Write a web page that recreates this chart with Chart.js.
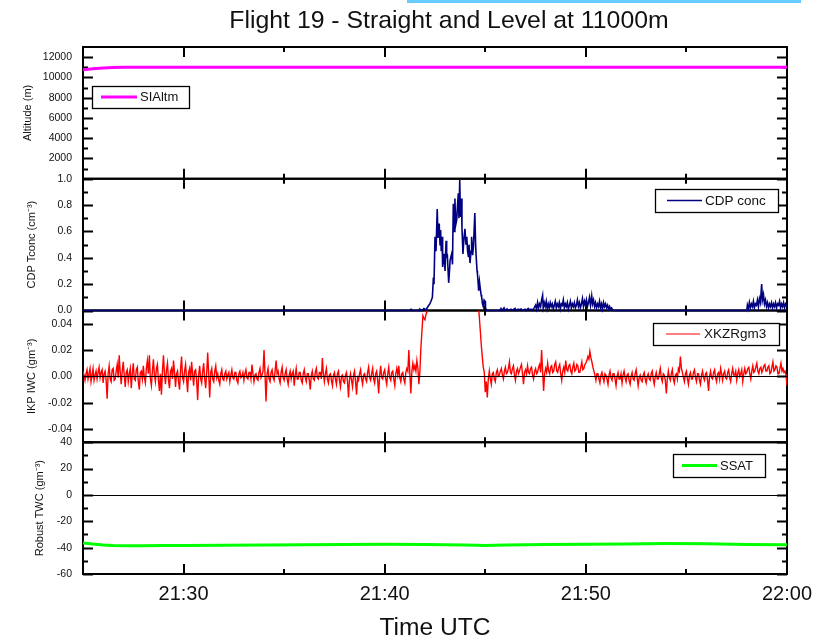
<!DOCTYPE html>
<html>
<head>
<meta charset="utf-8">
<script src="https://cdn.jsdelivr.net/npm/chart.js@4/dist/chart.umd.min.js"></script>
<style>
html,body{margin:0;padding:0;background:#fff;}
#wrap{position:relative;width:825px;height:643px;}
</style>
</head>
<body>
<div id="wrap"><canvas id="c" width="825" height="643"></canvas></div>
<script>
// ---------------- DATA ----------------
const chartTitle = 'Flight 19 - Straight and Level at 11000m';
const xAxisTitle = 'Time UTC';
// time axis in minutes after 21:00
const xTickValues = [30, 40, 50, 60];
const xTickLabels = ['21:30', '21:40', '21:50', '22:00'];
const xMinorValues = [35, 45, 55];

const seriesNames = ['SIAltm', 'CDP conc', 'XKZRgm3', 'SSAT'];
const yTitles = ['Altitude (m)', 'CDP Tconc (cm\u207B\u00B3)', 'IKP IWC (gm\u207B\u00B3)', 'Robust TWC (gm\u207B\u00B3)'];

const altTicks = [2000, 4000, 6000, 8000, 10000, 12000];
const altMinor = [1000, 3000, 5000, 7000, 9000, 11000];
const cdpTicks = [0, 0.2, 0.4, 0.6, 0.8, 1.0];
const cdpMinor = [0.1, 0.3, 0.5, 0.7, 0.9];
const iwcTicks = [-0.04, -0.02, 0, 0.02, 0.04];
const iwcMinor = [];
const twcTicks = [-60, -40, -20, 0, 20, 40];
const twcMinor = [-50, -30, -10, 10, 30];

// Altitude (SIAltm)
const altTime = [25, 25.5, 26, 26.5, 27, 30, 35, 40, 45, 50, 55, 60];
const altValues = [10750, 10850, 10930, 10980, 11000, 11000, 11010, 11000, 11000, 11010, 11000, 11000];

// CDP concentration
const cdpTime = [25, 41.25, 41.31, 41.36, 41.72, 41.75, 41.85, 41.95, 42.05, 42.15, 42.24, 42.30, 42.37, 42.42, 42.45, 42.50, 42.55, 42.61, 42.65, 42.71, 42.75, 42.78, 42.81, 42.85, 42.88, 42.95, 43.00, 43.05, 43.08, 43.11, 43.18, 43.22, 43.25, 43.33, 43.37, 43.41, 43.45, 43.49, 43.53, 43.58, 43.62, 43.66, 43.69, 43.73, 43.76, 43.78, 43.82, 43.84, 43.89, 43.94, 43.99, 44.04, 44.08, 44.12, 44.16, 44.19, 44.24, 44.29, 44.32, 44.37, 44.41, 44.48, 44.52, 44.54, 44.59, 44.61, 44.65, 44.67, 44.71, 44.74, 44.79, 44.82, 44.86, 44.90, 44.94, 44.99, 45.01, 45.07,
  45.73, 45.78, 45.83, 45.93, 45.98, 46.08, 46.13, 46.28, 46.33, 46.48, 46.53, 46.63, 46.68, 46.78, 46.83, 46.98, 47.03, 47.13, 47.18, 47.28, 47.33, 47.43,
  47.50, 47.55, 47.60, 47.65, 47.70, 47.75, 47.80, 47.85, 47.88, 47.93, 47.98, 48.03, 48.08, 48.13, 48.18, 48.23, 48.28, 48.33, 48.38, 48.43, 48.48, 48.53, 48.58, 48.63, 48.68, 48.73, 48.78, 48.83, 48.88, 48.93, 48.98, 49.03, 49.08, 49.13, 49.18, 49.23, 49.28, 49.33, 49.38, 49.43, 49.48, 49.53, 49.58, 49.63, 49.68, 49.73, 49.78, 49.83, 49.88, 49.93, 49.98, 50.03, 50.08, 50.13, 50.18, 50.23, 50.29, 50.33, 50.38, 50.43, 50.48, 50.53, 50.58, 50.63, 50.68, 50.73, 50.78, 50.83, 50.88, 50.93, 50.98, 51.03, 51.08, 51.13, 51.18, 51.23, 51.28, 51.35,
  58.00, 58.03, 58.08, 58.13, 58.18, 58.23, 58.28, 58.33, 58.38, 58.43, 58.48, 58.53, 58.58, 58.63, 58.68, 58.74, 58.78, 58.83, 58.88, 58.93, 58.98, 59.03, 59.08, 59.13, 59.18, 59.23, 59.28, 59.33, 59.38, 59.43, 59.48, 59.53, 59.58, 59.63, 59.68, 59.73, 59.78, 59.83, 59.88, 59.93, 60];
const cdpValues = [0, 0, 0.01, 0, 0, 0.01, 0.0, 0.015, 0.005, 0.03, 0.05, 0.07, 0.1, 0.25, 0.2, 0.56, 0.45, 0.77, 0.55, 0.66, 0.5, 0.61, 0.45, 0.56, 0.33, 0.43, 0.3, 0.53, 0.4, 0.43, 0.21, 0.3, 0.38, 0.43, 0.35, 0.81, 0.6, 0.85, 0.65, 0.69, 0.8, 0.89, 0.7, 0.99, 0.75, 0.71, 0.85, 0.63, 0.43, 0.55, 0.62, 0.5, 0.56, 0.45, 0.41, 0.5, 0.36, 0.45, 0.56, 0.42, 0.48, 0.74, 0.5, 0.43, 0.3, 0.28, 0.2, 0.15, 0.22, 0.18, 0.12, 0.1, 0.05, 0.03, 0.08, 0.07, 0.02, 0,
  0, 0.015, 0, 0.02, 0, 0.012, 0, 0.01, 0, 0.015, 0, 0.01, 0.005, 0.012, 0, 0.01, 0, 0.015, 0.005, 0.01, 0, 0.02,
  0.04, 0.01, 0.06, 0.02, 0.05, 0.03, 0.08, 0.115, 0.02, 0.06, 0.03, 0.07, 0.01, 0.05, 0.02, 0.06, 0.03, 0.05, 0.01, 0.04, 0.07, 0.02, 0.05, 0.03, 0.06, 0.01, 0.05, 0.04, 0.08, 0.02, 0.05, 0.03, 0.06, 0.01, 0.04, 0.07, 0.02, 0.05, 0.03, 0.06, 0.02, 0.04, 0.08, 0.03, 0.06, 0.02, 0.05, 0.09, 0.03, 0.07, 0.04, 0.08, 0.03, 0.06, 0.1, 0.04, 0.11, 0.05, 0.08, 0.03, 0.06, 0.02, 0.05, 0.03, 0.07, 0.02, 0.05, 0.01, 0.06, 0.03, 0.05, 0.02, 0.04, 0.01, 0.03, 0.01, 0.02, 0,
  0, 0.04, 0.01, 0.06, 0.02, 0.05, 0.03, 0.07, 0.02, 0.05, 0.04, 0.08, 0.03, 0.09, 0.06, 0.2, 0.08, 0.12, 0.05, 0.08, 0.03, 0.06, 0.02, 0.05, 0.03, 0.06, 0.02, 0.05, 0.03, 0.06, 0.02, 0.05, 0.04, 0.07, 0.02, 0.05, 0.03, 0.06, 0.02, 0.05, 0.03];

// IKP IWC, sampled every 0.05 min (3 s) from 21:25 to 22:00, one row per minute
const iwcStart = 25, iwcStep = 0.05;
const iwcValues = [
  0.004, 0.001, -0.003, 0.002, 0.005, -0.002, 0.002, 0.006, -0.004, 0.001, 0.006, -0.003, 0.001, 0.004, -0.002, 0.003, 0.007, -0.001, 0.003, 0.005,
  -0.005, 0.002, 0.004, -0.003, -0.017, 0.002, 0.008, -0.002, -0.004, 0.005, 0.006, -0.003, -0.002, 0.004, 0.009, -0.001, 0.016, 0.003, -0.006, 0.004,
  0.011, 0.001, -0.008, 0.003, 0.005, -0.004, 0.002, 0.006, -0.009, 0.002, 0.010, -0.002, -0.003, 0.005, 0.007, -0.004, -0.010, 0.003, 0.004, -0.002,
  0.008, -0.001, -0.005, 0.006, 0.012, 0.002, 0.016, -0.002, -0.007, 0.004, 0.013, 0.001, -0.004, 0.006, 0.009, -0.003, -0.011, 0.002, -0.014, 0.004,
  0.016, 0.002, -0.006, 0.005, 0.010, -0.003, -0.009, 0.004, 0.006, -0.002, 0.012, 0.003, -0.008, 0.002, 0.004, -0.004, -0.010, 0.005, 0.015, -0.001,
  -0.004, 0.004, 0.009, -0.002, -0.012, 0.003, 0.006, -0.003, 0.011, 0.002, -0.007, 0.004, 0.005, -0.003, -0.018, 0.001, 0.008, -0.002, -0.005, 0.004,
  0.010, -0.002, -0.009, 0.003, 0.018, 0.001, -0.016, 0.003, 0.006, -0.002, -0.004, 0.004, 0.008, -0.001, 0.002, -0.003, -0.006, 0.002, 0.005, -0.002,
  -0.003, 0.002, 0.004, -0.002, 0.001, 0.003, -0.004, 0.001, 0.005, -0.001, -0.002, 0.003, 0.003, -0.003, -0.005, 0.002, 0.004, -0.001, 0.000, 0.003,
  -0.003, 0.002, 0.005, -0.001, -0.002, 0.003, 0.003, -0.002, 0.009, 0.002, -0.004, 0.001, 0.002, -0.002, -0.003, 0.003, 0.006, -0.001, 0.001, 0.004,
  0.020, 0.001, -0.019, 0.002, 0.006, -0.002, -0.004, 0.003, 0.005, -0.001, -0.003, 0.004, 0.012, 0.002, 0.004, -0.002, -0.005, 0.003, 0.007, -0.001,
  -0.003, 0.002, 0.005, -0.002, -0.006, 0.001, 0.004, -0.002, 0.002, 0.004, -0.007, 0.001, 0.006, -0.002, -0.002, 0.003, 0.003, -0.003, -0.005, 0.002,
  0.005, -0.001, -0.004, 0.002, 0.002, -0.003, -0.010, 0.001, 0.004, -0.002, -0.003, 0.003, 0.006, -0.001, -0.002, 0.003, 0.003, -0.002, 0.014, 0.002,
  -0.004, 0.002, 0.006, -0.002, -0.005, 0.001, 0.002, -0.003, -0.007, 0.001, 0.003, -0.002, -0.006, 0.002, 0.004, -0.003, -0.008, 0.000, 0.001, -0.004,
  -0.005, 0.001, 0.003, -0.004, -0.016, -0.002, 0.002, -0.003, -0.008, 0.001, 0.004, -0.004, -0.014, -0.001, -0.003, 0.002, 0.005, -0.002, -0.006, 0.001,
  0.002, -0.002, -0.004, 0.003, 0.007, -0.001, -0.003, 0.002, 0.006, -0.002, -0.005, 0.002, 0.004, -0.003, -0.013, 0.001, 0.008, -0.001, -0.002, 0.003,
  0.005, -0.002, -0.006, 0.002, 0.007, -0.001, -0.003, 0.003, 0.004, -0.002, -0.007, 0.002, 0.006, 0.001, 0.008, -0.001, -0.004, 0.002, 0.003, -0.002,
  -0.005, 0.003, 0.006, 0.004, 0.020, 0.002, -0.013, 0.004, 0.010, 0.005, 0.008, 0.004, 0.012, 0.006, -0.006, 0.004, 0.022, 0.034, 0.046, 0.044,
  0.043, 0.047, 0.049, 0.06, 0.08, 0.1, 0.12, 0.14, 0.15, 0.17, 0.18, 0.19, 0.2, 0.21, 0.22, 0.24, 0.25, 0.25, 0.24, 0.25,
  0.26, 0.28, 0.3, 0.29, 0.28, 0.29, 0.3, 0.31, 0.32, 0.34, 0.35, 0.37, 0.38, 0.35, 0.33, 0.31, 0.3, 0.28, 0.27, 0.26,
  0.25, 0.24, 0.22, 0.21, 0.2, 0.19, 0.18, 0.16, 0.15, 0.12, 0.1, 0.08, 0.07, 0.055, 0.046, 0.035, 0.024, 0.015, 0.007, 0.003,
  -0.012, -0.004, -0.016, -0.002, 0.004, -0.002, -0.006, 0.002, 0.003, -0.002, -0.004, 0.003, 0.005, 0.000, 0.001, 0.004, 0.006, 0.001, -0.002, 0.004,
  0.007, 0.002, 0.003, 0.006, 0.011, 0.003, 0.002, 0.006, 0.008, 0.001, -0.003, 0.004, 0.006, 0.002, 0.004, 0.007, 0.009, 0.002, -0.006, 0.003,
  0.005, 0.002, 0.008, 0.003, 0.002, 0.006, 0.007, 0.001, -0.002, 0.004, 0.006, 0.002, 0.003, 0.007, 0.009, 0.003, 0.020, 0.004, -0.011, 0.002,
  0.006, 0.003, 0.010, 0.004, 0.002, 0.007, 0.008, 0.003, 0.004, 0.009, 0.011, 0.004, 0.003, 0.007, 0.009, 0.002, -0.003, 0.004, 0.007, 0.003,
  0.012, 0.005, 0.004, 0.008, 0.009, 0.004, 0.002, 0.007, 0.010, 0.004, 0.005, 0.009, 0.008, 0.003, 0.003, 0.007, 0.011, 0.005, 0.006, 0.009,
  0.010, 0.012, 0.015, 0.013, 0.019, 0.014, 0.011, 0.007, 0.004, 0.001, -0.003, 0.002, 0.002, -0.002, -0.005, 0.001, 0.003, -0.001, -0.004, 0.002,
  0.001, -0.002, -0.006, 0.001, 0.004, -0.001, -0.003, 0.002, 0.002, -0.002, -0.007, 0.000, 0.003, -0.002, -0.002, 0.002, -0.005, 0.001, 0.004, -0.001,
  -0.004, 0.001, 0.002, -0.003, -0.006, 0.000, 0.003, -0.002, -0.003, 0.002, 0.005, -0.001, -0.007, -0.001, 0.001, -0.003, -0.004, 0.001, 0.003, -0.002,
  -0.005, 0.000, 0.002, -0.002, -0.003, 0.002, 0.004, -0.002, -0.006, 0.000, 0.003, -0.002, -0.002, 0.002, 0.006, -0.001, -0.004, 0.002, 0.001, -0.003,
  -0.013, -0.002, 0.004, -0.001, -0.003, 0.002, 0.005, -0.002, -0.005, 0.001, 0.002, -0.002, 0.006, 0.004, 0.015, 0.006, 0.003, -0.001, -0.004, 0.002,
  0.004, -0.002, -0.006, 0.001, 0.003, -0.002, -0.002, 0.003, 0.005, -0.001, -0.004, 0.002, 0.002, -0.003, -0.006, 0.001, 0.004, -0.001, -0.003, 0.002,
  0.003, -0.003, -0.011, 0.000, 0.004, -0.001, -0.002, 0.003, 0.005, -0.001, -0.004, 0.002, 0.003, -0.002, 0.006, 0.002, -0.003, 0.002, 0.004, -0.001,
  -0.002, 0.003, 0.005, -0.001, -0.004, 0.002, 0.006, 0.001, 0.001, 0.004, -0.003, 0.002, 0.005, 0.000, 0.002, 0.005, -0.004, 0.002, 0.006, 0.002,
  0.003, 0.006, 0.007, 0.002, -0.002, 0.004, 0.008, 0.003, 0.004, 0.007, 0.010, 0.004, 0.002, 0.006, 0.007, 0.003, 0.005, 0.008, 0.009, 0.004,
  0.004, 0.007, 0.008, 0.002, 0.003, 0.007, 0.011, 0.004, 0.005, 0.008, 0.007, 0.002, 0.002, 0.006, 0.010, 0.004, 0.006, 0.003, 0.004, 0.001,
  -0.007
];

// Robust TWC (SSAT)
const twcTime = [25, 25.5, 26, 26.5, 27, 28, 29, 30, 32, 34, 36, 38, 40, 42, 44, 45, 46, 48, 50, 52, 54, 56, 58, 60];
const twcValues = [-36.5, -37.3, -37.9, -38.3, -38.5, -38.5, -38.4, -38.3, -38.1, -37.9, -37.8, -37.6, -37.4, -37.7, -37.9, -38.3, -38.0, -37.6, -37.4, -37.2, -36.9, -37.1, -37.6, -37.8];

// ---------------- CHART ----------------
const FONT = "'Liberation Sans', Arial, Helvetica, sans-serif";
const pts = (t, v) => t.map((x, i) => ({x: x, y: v[i]}));
const iwcPts = iwcValues.map((v, i) => ({x: iwcStart + i * iwcStep, y: v}));

const panelInfo = {
  y1: {major: altTicks, minor: altMinor},
  y2: {major: cdpTicks, minor: cdpMinor},
  y3: {major: iwcTicks, minor: iwcMinor},
  y4: {major: twcTicks, minor: twcMinor}
};

function yScale(min, max, weight, ticks, fmt, title, titlePad) {
  return {
    type: 'linear', position: 'left', stack: 'panels', stackWeight: 1, weight: weight,
    min: min, max: max,
    grid: {display: false, drawTicks: false}, border: {display: false},
    afterBuildTicks: s => { s.ticks = ticks.map(v => ({value: v})); },
    afterFit: s => { s.width = 83; },
    ticks: {autoSkip: false, padding: 11, color: '#111', font: {family: FONT, size: 10.5}, callback: v => fmt(v)},
    title: {display: true, text: title, color: '#111', font: {family: FONT, size: 11}, padding: {top: titlePad, bottom: 0}}
  };
}

const framePlugin = {
  id: 'frame',
  beforeDraw(chart) {
    const ctx = chart.ctx;
    ctx.save();
    ctx.fillStyle = '#66ccff';
    ctx.fillRect(407, 0, 394, 3);
    ctx.restore();
  },
  beforeDatasetsDraw(chart) {
    const ctx = chart.ctx, ca = chart.chartArea, xs = chart.scales.x;
    ctx.save();
    ctx.strokeStyle = '#000';
    ['y1', 'y2', 'y3', 'y4'].forEach(id => {
      const s = chart.scales[id];
      const top = s.top, bot = s.bottom;
      const drawY = (vals, len) => vals.forEach(v => {
        const p = Math.round(s.getPixelForValue(v)) + 0.5;
        ctx.beginPath();
        ctx.moveTo(ca.left, p); ctx.lineTo(ca.left + len, p);
        ctx.moveTo(ca.right, p); ctx.lineTo(ca.right - len, p);
        ctx.stroke();
      });
      ctx.lineWidth = 2;
      drawY(panelInfo[id].major, 10);
      drawY(panelInfo[id].minor, 5);
      const drawX = (vals, len) => vals.forEach(v => {
        const p = Math.round(xs.getPixelForValue(v));
        ctx.beginPath();
        ctx.moveTo(p, top); ctx.lineTo(p, top + len);
        ctx.moveTo(p, bot); ctx.lineTo(p, bot - len);
        ctx.stroke();
      });
      drawX(xTickValues, 10);
      drawX(xMinorValues, 5);
      ctx.lineWidth = 2;
      ctx.strokeRect(ca.left, top, ca.right - ca.left, bot - top);
    });
    ctx.restore();
  },
  beforeDatasetDraw(chart, args) {
    const ctx = chart.ctx, ca = chart.chartArea, ys = args.meta.yScale;
    const extra = args.meta.yAxisID === 'y2' ? 2 : 0;
    ctx.save();
    ctx.beginPath();
    ctx.rect(ca.left, ys.top, ca.right - ca.left, ys.bottom - ys.top + extra);
    ctx.clip();
  },
  afterDatasetDraw(chart) {
    chart.ctx.restore();
  },
  afterDatasetsDraw(chart) {
    const ctx = chart.ctx, ca = chart.chartArea;
    ctx.save();
    ctx.strokeStyle = '#000';
    ctx.lineWidth = 1;
    ['y3', 'y4'].forEach(id => {
      const p = Math.round(chart.scales[id].getPixelForValue(0)) + 0.5;
      ctx.beginPath(); ctx.moveTo(ca.left, p); ctx.lineTo(ca.right, p); ctx.stroke();
    });
    const legends = [
      {name: seriesNames[0], color: '#ff00ff', lw: 3, box: [92, 86, 97, 22], line: [101, 137], tx: 140, fs: 13},
      {name: seriesNames[1], color: '#000080', lw: 1.5, box: [655, 189, 123, 23], line: [667, 702], tx: 705, fs: 13.5},
      {name: seriesNames[2], color: '#ff0000', lw: 1, box: [653, 323, 126, 22], line: [666, 700], tx: 704, fs: 13.5},
      {name: seriesNames[3], color: '#00ff00', lw: 3, box: [673, 454, 92, 23], line: [682, 717], tx: 720, fs: 13}
    ];
    legends.forEach(l => {
      const [bx, by, bw, bh] = l.box;
      ctx.fillStyle = '#fff';
      ctx.fillRect(bx, by, bw, bh);
      ctx.strokeStyle = '#000';
      ctx.lineWidth = 1.3;
      ctx.strokeRect(bx + 0.5, by + 0.5, bw, bh);
      const cy = by + bh / 2;
      ctx.strokeStyle = l.color;
      ctx.lineWidth = l.lw;
      ctx.beginPath(); ctx.moveTo(l.line[0], cy); ctx.lineTo(l.line[1], cy); ctx.stroke();
      ctx.fillStyle = '#111';
      ctx.font = l.fs + 'px ' + FONT;
      ctx.textBaseline = 'middle';
      ctx.textAlign = 'left';
      ctx.fillText(l.name, l.tx, cy + 0.5);
    });
    ctx.restore();
  },
  afterDraw(chart) {
    const ctx = chart.ctx;
    ctx.save();
    ctx.fillStyle = '#111';
    ctx.font = '24.8px ' + FONT;
    ctx.textAlign = 'center';
    ctx.textBaseline = 'alphabetic';
    ctx.fillText(chartTitle, 449, 27.5);
    ctx.restore();
  }
};

new Chart(document.getElementById('c'), {
  type: 'line',
  data: {
    datasets: [
      {label: seriesNames[0], data: pts(altTime, altValues), yAxisID: 'y1', borderColor: '#ff00ff', borderWidth: 3, pointRadius: 0, tension: 0, clip: false},
      {label: seriesNames[1], data: pts(cdpTime, cdpValues), yAxisID: 'y2', borderColor: '#000080', borderWidth: 1.6, pointRadius: 0, tension: 0, clip: false},
      {label: seriesNames[2], data: iwcPts, yAxisID: 'y3', borderColor: '#ff0000', borderWidth: 1.4, pointRadius: 0, tension: 0, clip: false},
      {label: seriesNames[3], data: pts(twcTime, twcValues), yAxisID: 'y4', borderColor: '#00ff00', borderWidth: 3, pointRadius: 0, tension: 0, clip: false}
    ]
  },
  options: {
    responsive: false,
    animation: false,
    events: [],
    layout: {padding: {left: 0, right: 38, top: 47, bottom: 0}},
    plugins: {legend: {display: false}, title: {display: false}, tooltip: {enabled: false}},
    scales: {
      x: {
        type: 'linear', position: 'bottom', min: 25, max: 60,
        grid: {display: false, drawTicks: false}, border: {display: false},
        afterBuildTicks: s => { s.ticks = xTickValues.map(v => ({value: v})); },
        afterFit: s => { s.height = 69; },
        ticks: {autoSkip: false, maxRotation: 0, padding: 8, color: '#111', font: {family: FONT, size: 20},
          callback: v => xTickLabels[xTickValues.indexOf(v)]},
        title: {display: true, text: xAxisTitle, color: '#111', font: {family: FONT, size: 24.6}, padding: {top: 0, bottom: 0}}
      },
      y1: yScale(0, 13000, 4, altTicks, v => String(v), yTitles[0], 21),
      y2: yScale(0, 1.0, 3, cdpTicks, v => v.toFixed(1), yTitles[1], 25),
      y3: yScale(-0.05, 0.05, 2, iwcTicks, v => v.toFixed(2), yTitles[2], 25),
      y4: yScale(-60, 40, 1, twcTicks, v => String(v), yTitles[3], 33)
    }
  },
  plugins: [framePlugin]
});
</script>
</body>
</html>
